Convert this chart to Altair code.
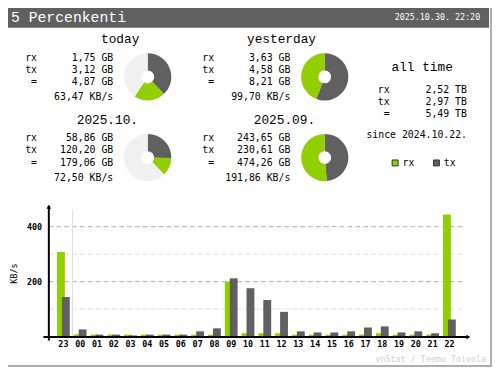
import altair as alt
import pandas as pd

# ---------------- data ----------------
title = "5 Percenkenti"
stamp = "2025.10.30. 22:20"

periods = ["today", "yesterday", "2025.10.", "2025.09."]
rx_gb = [1.75, 3.63, 58.86, 243.65]
tx_gb = [3.12, 4.58, 120.20, 230.61]
tot_gb = [4.87, 8.21, 179.06, 474.26]
rate_kbs = [63.47, 99.70, 72.50, 191.86]
compare_with = [1, 1, 3, 3]  # pie reference period

all_time_label = "all time"
all_rx_tb = 2.52
all_tx_tb = 2.97
all_tot_tb = 5.49
since = "since 2024.10.22."

hours = ["23", "00", "01", "02", "03", "04", "05", "06", "07", "08", "09", "10",
         "11", "12", "13", "14", "15", "16", "17", "18", "19", "20", "21", "22"]
rx_hour = [308, 8, 7, 7, 7, 7, 7, 7, 7, 7, 200, 12,
           12, 12, 7, 7, 7, 7, 7, 12, 7, 7, 7, 444]
tx_hour = [144, 26, 7, 7, 4, 7, 7, 7, 19, 30, 212, 176,
           133, 90, 19, 15, 15, 19, 33, 37, 15, 19, 12, 62]
y_major = [200, 400]
y_minor = [100, 300]
unit = "KB/s"
credit = "vnStat / Teemu Toivola"

# ---------------- style ----------------
S = 8  # page margin: reference coords -> chart coords
FONT_T = "Liberation Mono"
FONT = "DejaVu Sans Mono"
GREEN = "#92cf00"
DARK = "#606060"
LIGHT = "#f0f0f0"
EDGE = "#aeaeae"


def fmt(v):
    return f"{v:.2f}".replace(".", ",")


one = pd.DataFrame({"a": [0]})
layers = []


def txt(s, x, y, size=10, align="left", color="#000000", weight="normal",
        angle=0, baseline="middle", font=FONT):
    return alt.Chart(pd.DataFrame({"t": [s]})).mark_text(
        align=align, baseline=baseline, font=font, fontSize=size, color=color,
        fontWeight=weight, angle=angle
    ).encode(x=alt.value(x - S), y=alt.value(y - S), text="t:N")


def rect(x1, y1, x2, y2, **kw):
    return alt.Chart(one).mark_rect(**kw).encode(
        x=alt.value(x1 - S), x2=alt.value(x2 - S),
        y=alt.value(y1 - S), y2=alt.value(y2 - S))


def rule(x1, y1, x2, y2, **kw):
    return alt.Chart(one).mark_rule(**kw).encode(
        x=alt.value(x1 - S), x2=alt.value(x2 - S),
        y=alt.value(y1 - S), y2=alt.value(y2 - S))


# frame and header
layers.append(rect(1, 1, 499, 369, fill="#ffffff", stroke=EDGE, strokeWidth=2))
layers.append(rect(3, 3, 497, 25, fill=DARK))
layers.append(txt(title, 11, 19, size=15, color="#ffffff", baseline="alphabetic",
                  font=FONT_T))
layers.append(txt(stamp, 488, 17, size=8.5, color="#ffffff", align="right",
                  baseline="alphabetic"))

# period blocks
blocks = [
    (122, 37, 37.5, 115, 55.5, 150, 75),
    (286, 37, 217.5, 295, 55.5, 330, 75),
    (109, 119, 37.5, 115, 137.5, 150, 157),
    (289, 119, 217.5, 295, 137.5, 330, 157),
]
row_off = [0, 12.4, 25, 40]
for i, (tcx, tcy, lx, vx, ry, pcx, pcy) in enumerate(blocks):
    layers.append(txt(periods[i], tcx, tcy, size=13, align="center", font=FONT_T))
    labels = ["rx", "tx", "="]
    vals = [rx_gb[i], tx_gb[i], tot_gb[i]]
    for k in range(3):
        layers.append(txt(labels[k], lx, ry + row_off[k], align="right"))
        layers.append(txt(fmt(vals[k]) + " GB", vx, ry + row_off[k], align="right"))
    layers.append(txt(fmt(rate_kbs[i]) + " KB/s", vx, ry + row_off[3], align="right"))

    ref = max(tot_gb[i], tot_gb[compare_with[i]])
    pdf = pd.DataFrame({
        "k": ["tx", "rx", "rest"],
        "v": [tx_gb[i] / ref, rx_gb[i] / ref, max(ref - tot_gb[i], 0) / ref],
        "o": [0, 1, 2],
    })
    layers.append(alt.Chart(pdf).mark_arc(outerRadius=24, innerRadius=6.5).encode(
        theta=alt.Theta("v:Q", stack=True, scale=alt.Scale(domain=[0, 1])),
        color=alt.Color("k:N", scale=alt.Scale(domain=["tx", "rx", "rest"],
                                               range=[DARK, GREEN, LIGHT]),
                        legend=None),
        order=alt.Order("o:Q"),
        x=alt.value(pcx - S), y=alt.value(pcy - S),
    ))

# all time block
layers.append(txt(all_time_label, 429, 65, size=13, align="center", font=FONT_T))
at_vals = [all_rx_tb, all_tx_tb, all_tot_tb]
at_rows = [88.3, 100.6, 113]
for k, lab in enumerate(["rx", "tx", "="]):
    layers.append(txt(lab, 396, at_rows[k], align="right"))
    layers.append(txt(fmt(at_vals[k]) + " TB", 474.5, at_rows[k], align="right"))
layers.append(txt(since, 423.5, 134.5, align="center"))

# legend
layers.append(rect(398.5, 159.5, 404.5, 165.5, fill=GREEN, stroke="#303030", strokeWidth=1))
layers.append(txt("rx", 409, 162.5))
layers.append(rect(440.5, 159.5, 446.5, 165.5, fill=DARK, stroke="#303030", strokeWidth=1))
layers.append(txt("tx", 451, 162.5))

# ---------------- bar chart ----------------
xsc = alt.Scale(domain=hours, range=[48 - S, 473 - S], paddingInner=0, paddingOuter=0.455)
ysc = alt.Scale(domain=[0, 400], range=[339 - S, 227.3 - S], nice=False, zero=True)

layers.append(alt.Chart(pd.DataFrame({"y": y_minor})).mark_rule(
    color="#dddddd", strokeDash=[5, 3], strokeWidth=1).encode(
    y=alt.Y("y:Q", scale=ysc, axis=None), x=alt.value(49 - S), x2=alt.value(472 - S)))
layers.append(alt.Chart(pd.DataFrame({"y": y_major})).mark_rule(
    color="#b0b0b0", strokeDash=[5, 3], strokeWidth=1).encode(
    y=alt.Y("y:Q", scale=ysc, axis=None), x=alt.value(49 - S), x2=alt.value(472 - S)))
layers.append(alt.Chart(pd.DataFrame({"y": y_major})).mark_text(
    align="right", baseline="middle", font=FONT, fontSize=8.5, fontWeight="bold").encode(
    y=alt.Y("y:Q", scale=ysc, axis=None), x=alt.value(42.7 - S), text="y:Q"))

# day separator
layers.append(rule(73.5, 210, 73.5, 339, color="#dddddd", strokeWidth=1))

bdf = pd.DataFrame({"h": hours, "rx": rx_hour, "tx": tx_hour})
layers.append(alt.Chart(bdf).mark_bar(width=8, xOffset=-2.5, color=GREEN).encode(
    x=alt.X("h:O", scale=xsc, sort=hours, axis=None),
    y=alt.Y("rx:Q", scale=ysc, axis=None)))
layers.append(alt.Chart(bdf).mark_bar(width=8, xOffset=2.5, color=DARK).encode(
    x=alt.X("h:O", scale=xsc, sort=hours, axis=None),
    y=alt.Y("tx:Q", scale=ysc, axis=None)))
layers.append(alt.Chart(bdf).mark_text(
    align="center", baseline="middle", font=FONT, fontSize=8.5, fontWeight="bold").encode(
    x=alt.X("h:O", scale=xsc, sort=hours, axis=None), y=alt.value(346.7 - S), text="h:N"))

# axes lines and arrows
layers.append(rule(49.5, 206, 49.5, 343, color="#000000", strokeWidth=2))
layers.append(rule(44, 339.5, 476, 339.5, color="#000000", strokeWidth=2))
layers.append(alt.Chart(one).mark_point(shape="triangle-up", filled=True, size=22,
                                        color="#000000", opacity=1).encode(
    x=alt.value(49.5 - S), y=alt.value(207 - S)))
layers.append(alt.Chart(one).mark_point(shape="triangle-right", filled=True, size=22,
                                        color="#000000", opacity=1).encode(
    x=alt.value(476 - S), y=alt.value(339.5 - S)))

layers.append(txt(unit, 14.5, 275, size=8.5, align="center", angle=270))
layers.append(txt(credit, 494, 361.5, size=8.5, align="right", color="#d0d0d0"))

chart = alt.layer(*layers).properties(
    width=500 - S, height=370 - S,
    autosize=alt.AutoSizeParams(type="none"), padding=0,
).configure_view(stroke=None)

chart.save("out.html", embed_options={"renderer": "svg", "actions": False})
